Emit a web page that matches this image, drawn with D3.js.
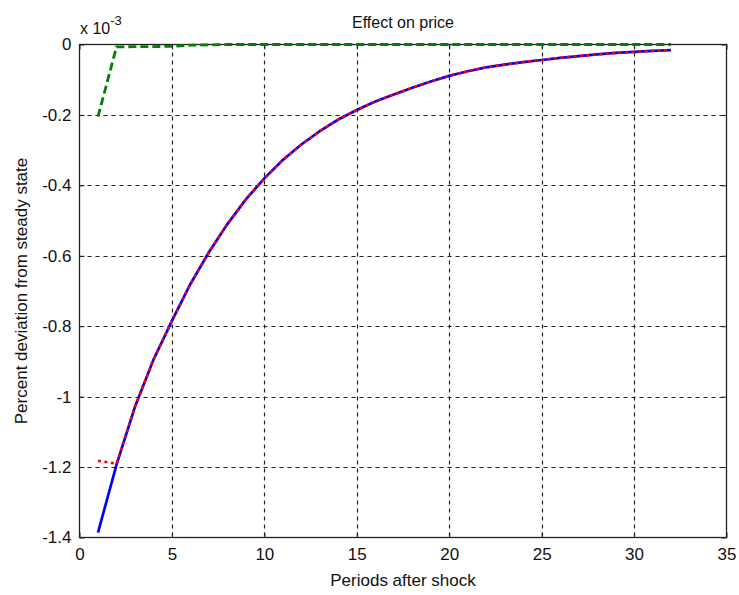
<!DOCTYPE html>
<html>
<head>
<meta charset="utf-8">
<script src="https://cdn.jsdelivr.net/npm/d3@7/dist/d3.min.js"></script>
<style>
  html, body { margin: 0; padding: 0; background: #fff; }
  svg { display: block; }
  text { font-family: "Liberation Sans", Arial, sans-serif; fill: #111; }
</style>
</head>
<body>
<svg id="chart" width="739" height="595"></svg>
<script>
// Impulse responses of the price level (values in units of 1e-3)
const periods = d3.range(1, 33);
const fullModel = [-1.386, -1.194, -1.029, -0.895, -0.785, -0.680, -0.590, -0.510,
  -0.440, -0.380, -0.328, -0.284, -0.246, -0.213, -0.186, -0.162, -0.142, -0.123,
  -0.105, -0.089, -0.076, -0.065, -0.057, -0.050, -0.044, -0.038, -0.033, -0.028,
  -0.024, -0.021, -0.018, -0.016];
const approxModel = [-1.182, -1.190, -1.029, -0.895, -0.785, -0.680, -0.590, -0.510,
  -0.440, -0.380, -0.328, -0.284, -0.246, -0.213, -0.186, -0.162, -0.142, -0.123,
  -0.105, -0.089, -0.076, -0.065, -0.057, -0.050, -0.044, -0.038, -0.033, -0.028,
  -0.024, -0.021, -0.018, -0.016];
const flexModel = [-0.205, -0.007, -0.006, -0.006, -0.005, -0.002, -0.001, 0, 0, 0,
  0, 0, 0, 0, 0, 0, 0, 0, 0, 0, 0, 0, 0, 0, 0, 0, 0, 0, 0, 0, 0, 0];
const xTicks = [0, 5, 10, 15, 20, 25, 30, 35];
const yTicks = [0, -0.2, -0.4, -0.6, -0.8, -1, -1.2, -1.4];

const svg = d3.select("#chart");
const plotL = 79.5, plotR = 726.5, plotT = 44.5, plotB = 537.5;

const x = d3.scaleLinear().domain([0, 35]).range([plotL, plotR]);
const y = d3.scaleLinear().domain([-1.4, 0]).range([plotB, plotT]);

// dashed grid
const grid = svg.append("g").attr("stroke", "#222").attr("stroke-width", 1.2)
  .attr("stroke-dasharray", "4,4");
grid.selectAll(".gx").data(xTicks.slice(1, -1)).join("line")
  .attr("x1", d => Math.round(x(d)) + 0.5).attr("x2", d => Math.round(x(d)) + 0.5)
  .attr("y1", plotT).attr("y2", plotB);
grid.selectAll(".gy").data(yTicks.slice(1, -1)).join("line")
  .attr("y1", d => Math.round(y(d)) + 0.5).attr("y2", d => Math.round(y(d)) + 0.5)
  .attr("x1", plotL).attr("x2", plotR);

// axes with inward ticks
const fmt = d => d === 0 ? "0" : String(+d.toFixed(1));
const xAxis = svg.append("g").attr("transform", `translate(0,${plotB})`)
  .call(d3.axisBottom(x).tickValues(xTicks).tickSize(-5).tickPadding(10).tickFormat(fmt));
const xAxisTop = svg.append("g").attr("transform", `translate(0,${plotT})`)
  .call(d3.axisTop(x).tickValues(xTicks).tickSize(-5).tickFormat(""));
const yAxis = svg.append("g").attr("transform", `translate(${plotL},0)`)
  .call(d3.axisLeft(y).tickValues(yTicks).tickSize(-5).tickPadding(8).tickFormat(fmt));
const yAxisRight = svg.append("g").attr("transform", `translate(${plotR},0)`)
  .call(d3.axisRight(y).tickValues(yTicks).tickSize(-5).tickFormat(""));
[xAxis, xAxisTop, yAxis, yAxisRight].forEach(a => {
  a.select(".domain").remove();
  a.selectAll(".tick line").attr("stroke", "#222");
  a.selectAll("text").attr("font-family", "Liberation Sans, Arial, sans-serif")
    .attr("font-size", 17).attr("fill", "#111");
});

// box
svg.append("rect").attr("x", plotL).attr("y", plotT)
  .attr("width", plotR - plotL).attr("height", plotB - plotT)
  .attr("fill", "none").attr("stroke", "#222").attr("stroke-width", 1.3);

// series
const line = vals => d3.line().x((d, i) => x(periods[i])).y(d => y(d))(vals);
svg.append("path").attr("d", line(fullModel)).attr("fill", "none")
  .attr("stroke", "#0000ff").attr("stroke-width", 2.7);
svg.append("path").attr("d", line(approxModel)).attr("fill", "none")
  .attr("stroke", "#ff0000").attr("stroke-width", 2.5).attr("stroke-dasharray", "3,3.5");
svg.append("path").attr("d", line(flexModel)).attr("fill", "none")
  .attr("stroke", "#008000").attr("stroke-width", 2.8).attr("stroke-dasharray", "8,4");

// labels
svg.append("text").attr("x", (plotL + plotR) / 2).attr("y", 28)
  .attr("text-anchor", "middle").attr("font-size", 16).text("Effect on price");
svg.append("text").attr("x", (plotL + plotR) / 2).attr("y", 586)
  .attr("text-anchor", "middle").attr("font-size", 17).text("Periods after shock");
svg.append("text").attr("transform", `translate(27,${(plotT + plotB) / 2}) rotate(-90)`)
  .attr("text-anchor", "middle").attr("font-size", 17).text("Percent deviation from steady state");
const mult = svg.append("text").attr("x", 80).attr("y", 34).attr("font-size", 16);
mult.append("tspan").text("x 10");
mult.append("tspan").attr("dy", -9).attr("font-size", 13).text("-3");
</script>
</body>
</html>
